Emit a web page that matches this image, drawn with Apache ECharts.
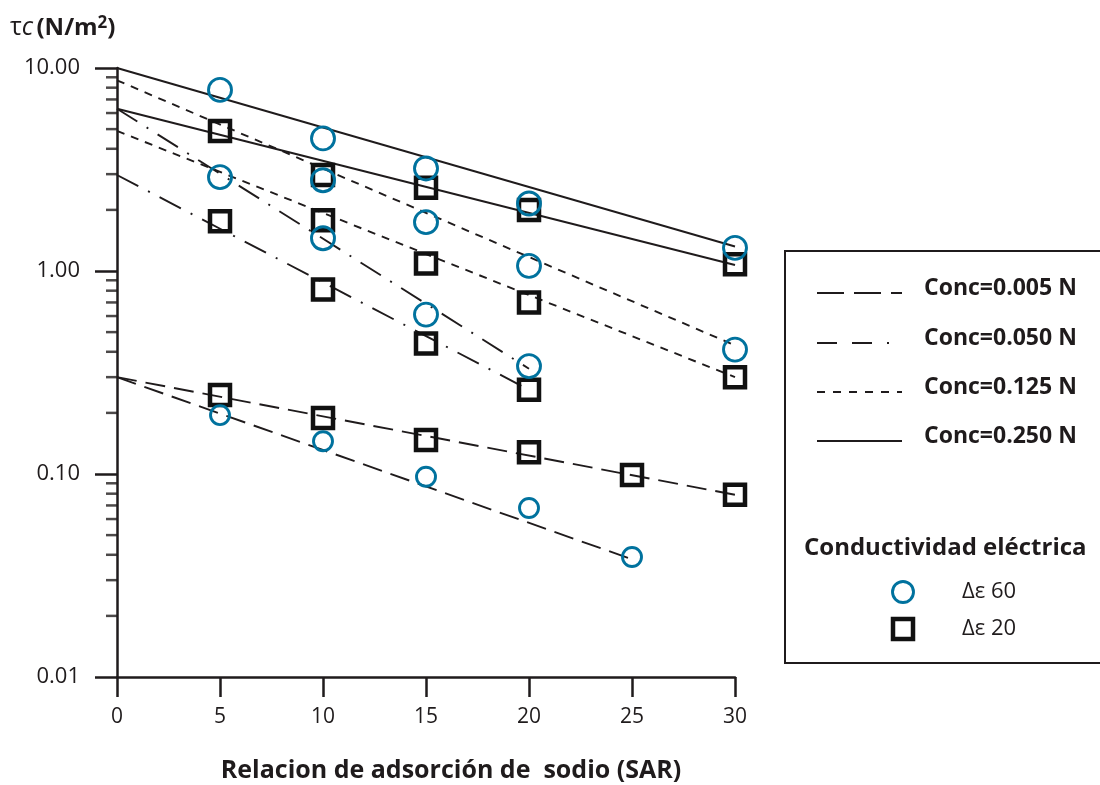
<!DOCTYPE html>
<html><head><meta charset="utf-8">
<script src="https://cdn.jsdelivr.net/npm/echarts@6/dist/echarts.min.js"></script>
<style>html,body{margin:0;padding:0;background:#fff}#c{width:1100px;height:785px}</style>
</head><body><div id="c"></div><script>
// ---- data ----
const sar = [5, 10, 15, 20, 25, 30];
const yTickLabels = ['0.01', '0.10', '1.00', '10.00'];
// Δε 60 (circles)
const c250_60 = [7.8, 4.5, 3.2, 2.15, null, 1.30];
const c125_60 = [null, 2.8, 1.74, 1.06, null, 0.41];
const c050_60 = [2.9, 1.45, 0.61, 0.34, null, null];
const c005_60 = [0.195, 0.145, 0.097, 0.068, 0.039, null];
// Δε 20 (squares)
const s250_20 = [4.9, 2.97, 2.57, 2.0, null, 1.08];
const s125_20 = [null, 1.78, 1.09, 0.70, null, 0.30];
const s050_20 = [1.76, 0.81, 0.44, 0.26, null, null];
const s005_20 = [0.245, 0.189, 0.147, 0.128, 0.099, 0.079];
// fitted lines: SAR start/end and tau values at those ends
const fitSar250_60 = [0, 30], fitVal250_60 = [10.0, 1.32];
const fitSar250_20 = [0, 30], fitVal250_20 = [6.3, 1.07];
const fitSar125_60 = [0, 30], fitVal125_60 = [8.7, 0.43];
const fitSar125_20 = [0, 30], fitVal125_20 = [4.9, 0.30];
const fitSar050_60 = [0, 20], fitVal050_60 = [6.3, 0.33];
const fitSar050_20 = [0, 20], fitVal050_20 = [2.97, 0.26];
const fitSar005_60 = [0, 25], fitVal005_60 = [0.30, 0.038];
const fitSar005_20 = [0, 30], fitVal005_20 = [0.30, 0.079];
const concLabels = ['Conc=0.005 N', 'Conc=0.050 N', 'Conc=0.125 N', 'Conc=0.250 N'];
const markerLabels = ['\u0394\u03b5 60', '\u0394\u03b5 20'];

// ---- styles ----
const INK = '#1f1b1c', SQ = '#111', BLUE = '#00729e';
const FONT = '"Open Sans", Lato, sans-serif';
const DASH = {
  c005: [20, 9],
  c050: [24, 11, 2, 11],
  c125: [8, 7],
  c250: 'solid'
};

function pairs(xs, ys) { return xs.map((x, i) => [x, ys[i]]); }
function pts(vals) { return sar.map((x, i) => [x, vals[i]]).filter(p => p[1] != null); }
function fit(xs, ys, dash) {
  return { type: 'line', data: pairs(xs, ys), symbol: 'none', silent: true, z: 2,
    lineStyle: { color: INK, width: 1.9, type: dash } };
}
function circles(vals, size) {
  return { type: 'scatter', data: pts(vals), symbol: 'circle', symbolSize: size, z: 4, clip: false,
    itemStyle: { color: 'rgba(255,255,255,0)', borderColor: BLUE, borderWidth: 2.9, opacity: 1 } };
}
function squares(vals) {
  return { type: 'scatter', data: pts(vals), symbol: 'rect', symbolSize: 20, z: 3, clip: false,
    itemStyle: { color: 'rgba(255,255,255,0)', borderColor: SQ, borderWidth: 4.5, opacity: 1 } };
}
// log minor ticks (2..9 per decade)
const minorVals = [];
[0.01, 0.1, 1].forEach(d => { for (let k = 2; k <= 9; k++) minorVals.push([0, +(d * k).toPrecision(3)]); });

const chart = echarts.init(document.getElementById('c'), null, { renderer: 'canvas' });

// legend graphics
const LX = 817, LX2 = 902;
const legendRows = [293, 343, 392, 441];
const legendDash = [[27, 10], [20, 15, 20, 15, 2, 15], [8, 8], null];
const legendEls = [{
  type: 'rect', shape: { x: 785, y: 251, width: 340, height: 412 },
  style: { fill: '#fff', stroke: INK, lineWidth: 2 }, z: 10
}];
legendRows.forEach((y, i) => {
  legendEls.push({ type: 'line', shape: { x1: LX, y1: y, x2: LX2, y2: y },
    style: { stroke: INK, lineWidth: 2.2, lineDash: legendDash[i] || null }, z: 11 });
  legendEls.push({ type: 'text', x: 924, y: y - 5, z: 11,
    style: { text: concLabels[i], font: 'bold 23px ' + FONT, fill: INK, verticalAlign: 'middle' } });
});
legendEls.push({ type: 'text', x: 804, y: 548, z: 11,
  style: { text: 'Conductividad eléctrica', font: 'bold 24px ' + FONT, fill: INK, verticalAlign: 'middle' } });
legendEls.push({ type: 'circle', shape: { cx: 903, cy: 592, r: 10.5 }, z: 11,
  style: { fill: 'none', stroke: BLUE, lineWidth: 2.9 } });
legendEls.push({ type: 'rect', shape: { x: 893, y: 619, width: 20, height: 20 }, z: 11,
  style: { fill: 'none', stroke: SQ, lineWidth: 4.5 } });
legendEls.push({ type: 'text', x: 962, y: 592, z: 11,
  style: { text: markerLabels[0], font: '22px ' + FONT, fill: INK, verticalAlign: 'middle' } });
legendEls.push({ type: 'text', x: 962, y: 629, z: 11,
  style: { text: markerLabels[1], font: '22px ' + FONT, fill: INK, verticalAlign: 'middle' } });
// y-axis title
legendEls.push({ type: 'text', x: 10, y: 28, z: 11,
  style: {
    text: '{n|\u03c4}{i|c} {b|(N/m}{s|2}{b|)}', verticalAlign: 'middle', fill: INK,
    rich: {
      n: { font: '25px ' + FONT, fill: INK },
      i: { font: 'italic 25px ' + FONT, fill: INK },
      b: { font: 'bold 24px ' + FONT, fill: INK },
      s: { font: 'bold 17px ' + FONT, fill: INK, verticalAlign: 'top', padding: [0, 0, 10, 0] }
    }
  } });
// x-axis title
legendEls.push({ type: 'text', x: 451, y: 771, z: 11,
  style: { text: 'Relacion de adsorción de  sodio (SAR)', font: 'bold 25px ' + FONT, fill: INK,
    align: 'center', verticalAlign: 'middle' } });

chart.setOption({
  animation: false,
  backgroundColor: '#fff',
  grid: { left: 117, right: 365, top: 68, bottom: 108, containLabel: false },
  xAxis: {
    type: 'value', min: 0, max: 30, interval: 5,
    axisLine: { show: true, onZero: false, lineStyle: { color: INK, width: 2.5 } },
    axisTick: { show: true, length: 20, lineStyle: { color: INK, width: 2.5 } },
    axisLabel: { color: INK, fontSize: 21, fontFamily: FONT, margin: 30 },
    splitLine: { show: false }
  },
  yAxis: {
    type: 'log', logBase: 10, min: 0.01, max: 10,
    axisLine: { show: true, lineStyle: { color: INK, width: 2.5 } },
    axisTick: { show: true, length: 22, lineStyle: { color: INK, width: 2.5 } },
    minorTick: { show: false },
    axisLabel: { color: INK, fontSize: 22, fontFamily: FONT, margin: 37,
      formatter: v => { const i = Math.round(Math.log10(v)) + 2; return yTickLabels[i]; } },
    splitLine: { show: false }
  },
  series: [
    { type: 'scatter', data: minorVals, symbol: 'rect', symbolSize: [11, 2.5], symbolOffset: [-5.5, 0],
      clip: false, silent: true, z: 1, itemStyle: { color: INK } },
    fit(fitSar250_60, fitVal250_60, DASH.c250),
    fit(fitSar250_20, fitVal250_20, DASH.c250),
    fit(fitSar125_60, fitVal125_60, DASH.c125),
    fit(fitSar125_20, fitVal125_20, DASH.c125),
    fit(fitSar050_60, fitVal050_60, DASH.c050),
    fit(fitSar050_20, fitVal050_20, DASH.c050),
    fit(fitSar005_60, fitVal005_60, DASH.c005),
    fit(fitSar005_20, fitVal005_20, DASH.c005),
    squares(s250_20), squares(s125_20), squares(s050_20), squares(s005_20),
    circles(c250_60, 23), circles(c125_60, 23), circles(c050_60, 23), circles(c005_60, 19)
  ],
  graphic: legendEls
});
</script></body></html>
